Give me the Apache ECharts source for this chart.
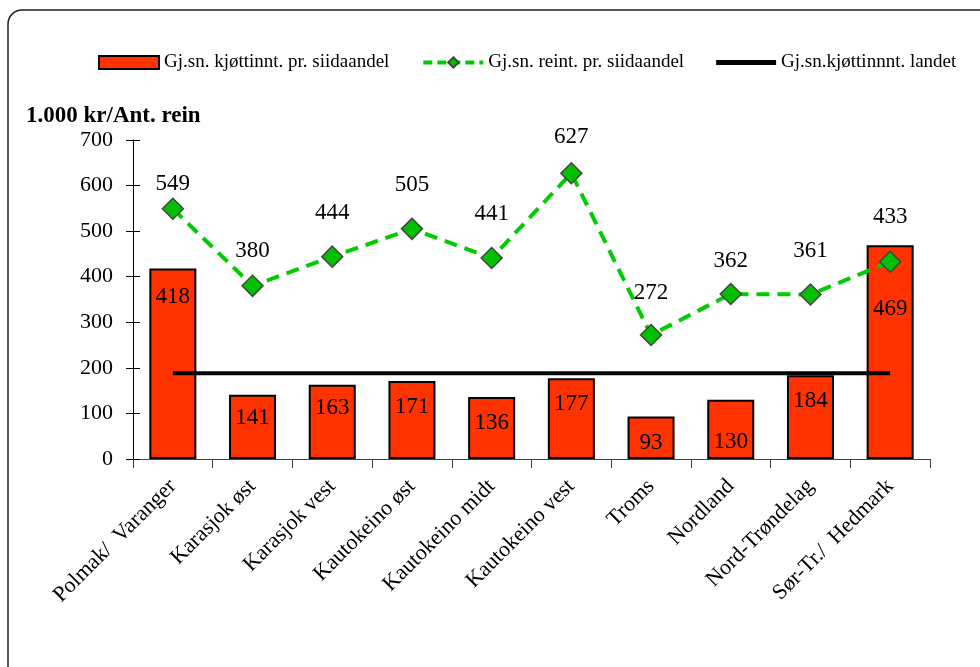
<!DOCTYPE html>
<html>
<head>
<meta charset="utf-8">
<script src="https://cdn.jsdelivr.net/npm/echarts@6/dist/echarts.min.js"></script>
<style>
html, body { margin: 0; padding: 0; background: #fff; }
#chart { width: 980px; height: 667px; }
</style>
</head>
<body>
<div id="chart"></div>
<script>
// data
const categories = ['Polmak/  Varanger', 'Karasjok øst', 'Karasjok vest', 'Kautokeino øst',
    'Kautokeino midt', 'Kautokeino vest', 'Troms', 'Nordland', 'Nord-Trøndelag', 'Sør-Tr./  Hedmark'];
const meatIncome = [418, 141, 163, 171, 136, 177, 93, 130, 184, 469];
const reindeerIncome = [549, 380, 444, 505, 441, 627, 272, 362, 361, 433];
const nationalAvg = 188;
const yTicks = [0, 100, 200, 300, 400, 500, 600, 700];

// label offsets (style only)
const barLabelGap = [17, 12, 12, 14, 14, 14, 15, 31, 14, 52];
const lineLabelGap = [2, 12, 21, 21, 21, 14, 19, 10, 21, 22];

const font = 'Liberation Serif';
const chart = echarts.init(document.getElementById('chart'));

chart.setOption({
    backgroundColor: '#fff',
    animation: false,
    textStyle: { fontFamily: font, color: '#000' },
    graphic: [{
        type: 'rect',
        shape: { x: 8, y: 10, width: 990, height: 680, r: 14 },
        style: { fill: 'none', stroke: '#222', lineWidth: 1.5 },
        silent: true
    }],
    title: {
        text: '1.000 kr/Ant. rein',
        left: 21, top: 100,
        textStyle: { fontFamily: font, fontWeight: 'bold', fontSize: 23, color: '#000' }
    },
    legend: {
        top: 48, left: 93,
        itemWidth: 60, itemHeight: 13, itemGap: 32,
        textStyle: { fontFamily: font, fontSize: 19, color: '#000' },
        data: [
            { name: 'Gj.sn. kjøttinnt. pr. siidaandel', icon: 'rect' },
            { name: 'Gj.sn. reint. pr. siidaandel', lineStyle: { width: 4, type: [9, 5] } },
            { name: 'Gj.sn.kjøttinnnt. landet', icon: 'path://M0,0 L60,0 L60,5 L0,5 Z' }
        ]
    },
    grid: { left: 133, right: 50, top: 140, bottom: 208 },
    xAxis: {
        type: 'category',
        data: categories,
        axisLine: { lineStyle: { color: '#444', width: 1 } },
        axisTick: { show: true, length: 9, lineStyle: { color: '#444' } },
        axisLabel: { rotate: 45, fontFamily: font, fontSize: 22, color: '#000', margin: 24, interval: 0 }
    },
    yAxis: [{
        type: 'value', min: 0, max: 700, interval: 100,
        axisLine: { show: true, lineStyle: { color: '#000' } },
        axisTick: { show: true, length: 7, lineStyle: { color: '#000' } },
        axisLabel: {
            fontFamily: font, fontSize: 22, color: '#000', margin: 20,
            formatter: v => yTicks.includes(v) ? String(v) : ''
        },
        splitLine: { show: false }
    }, {
        type: 'value', min: 0, max: 700, interval: 100, position: 'left',
        axisLine: { show: false },
        axisTick: { show: true, inside: true, length: 7, lineStyle: { color: '#000' } },
        axisLabel: { show: false },
        splitLine: { show: false }
    }],
    series: [{
        name: 'Gj.sn. kjøttinnt. pr. siidaandel',
        type: 'bar',
        barWidth: '59%',
        data: meatIncome.map((v, i) => ({
            value: v,
            label: { distance: barLabelGap[i] }
        })),
        itemStyle: { color: '#FF3300', borderColor: '#000', borderWidth: 2 },
        label: {
            show: true, position: 'insideTop',
            fontFamily: font, fontSize: 23, color: '#000'
        },
        z: 2
    }, {
        name: 'Gj.sn.kjøttinnnt. landet',
        type: 'line',
        data: categories.map(() => nationalAvg),
        symbol: 'none',
        lineStyle: { color: '#000', width: 4 },
        itemStyle: { color: '#000' },
        z: 3
    }, {
        name: 'Gj.sn. reint. pr. siidaandel',
        type: 'line',
        data: reindeerIncome.map((v, i) => ({
            value: v,
            label: { distance: lineLabelGap[i] }
        })),
        symbol: 'diamond',
        symbolSize: 21,
        lineStyle: { color: '#00CC00', width: 4, type: [13, 8] },
        itemStyle: { color: '#00C000', borderColor: '#444', borderWidth: 1.5 },
        label: {
            show: true, position: 'top',
            fontFamily: font, fontSize: 23, color: '#000'
        },
        z: 4
    }]
});
</script>
</body>
</html>
